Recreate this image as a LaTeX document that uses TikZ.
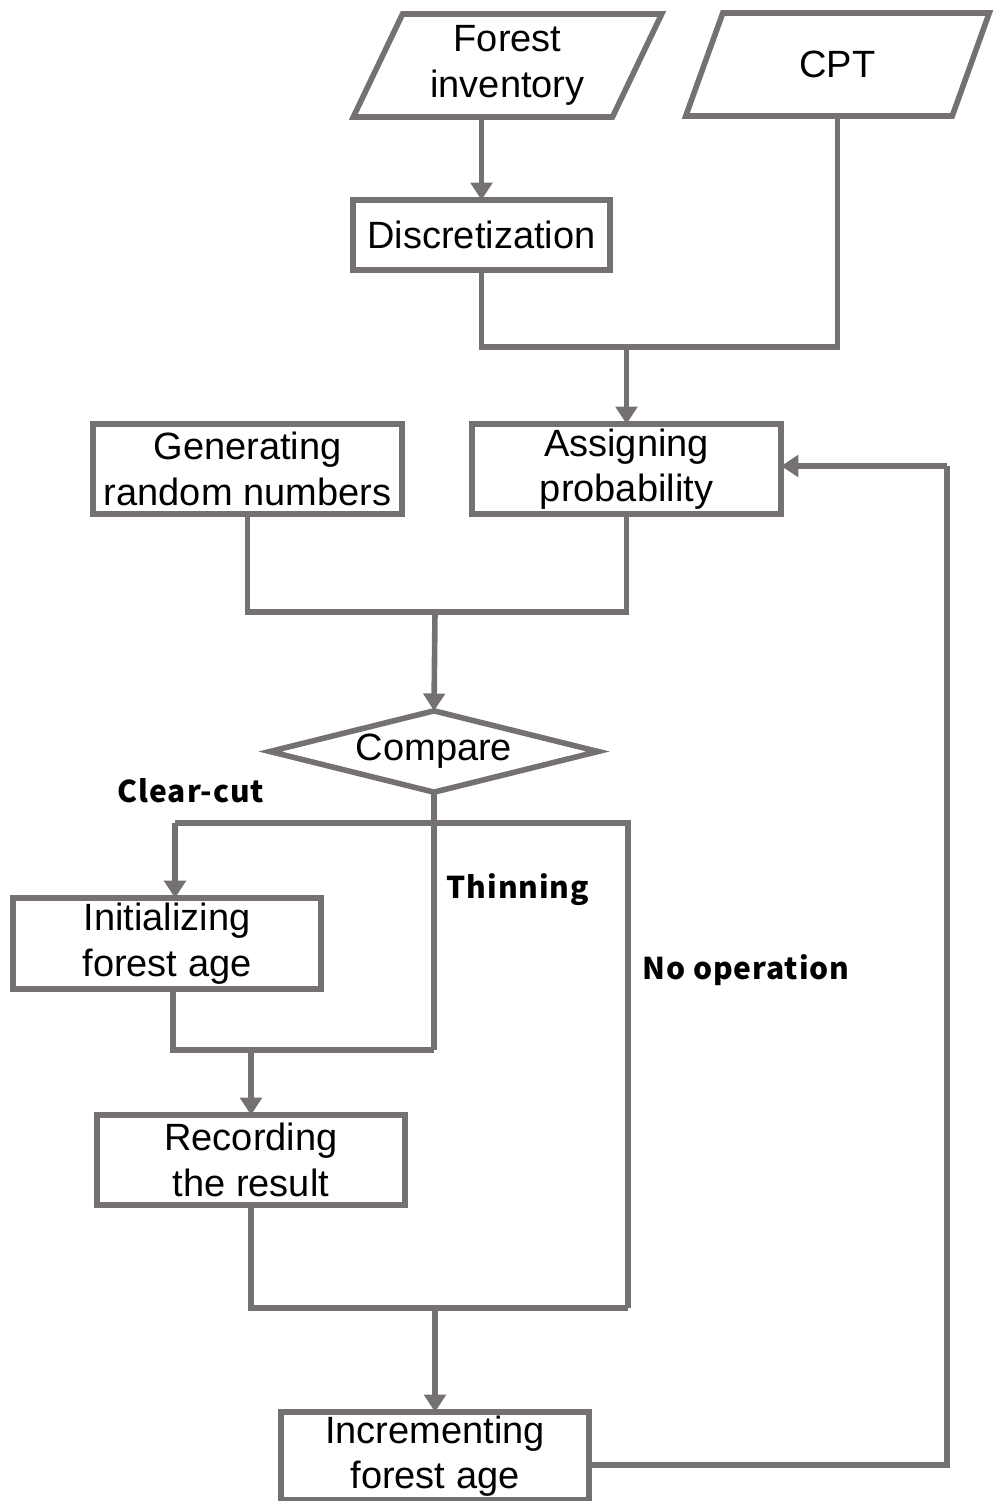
\documentclass[tikz,border=0pt]{standalone}
\usepackage{fontspec}
\setmainfont{Liberation Sans}
\newfontfamily\labfont[LetterSpace=3]{Noto Sans CJK JP}
\usetikzlibrary{shapes.geometric,arrows.meta}
\definecolor{lc}{HTML}{767171}
\begin{document}
\begin{tikzpicture}[x=0.75pt,y=-0.75pt,
  line/.style={draw=lc,line width=4.2pt},
  arr/.style={line,-{Triangle[width=16pt,length=13pt]}},
  box/.style={draw=lc,line width=4.2pt,fill=white,rectangle,inner sep=0pt,outer sep=0pt,
    align=center,font=\fontsize{28.5}{34}\selectfont},
  para/.style={box,trapezium,trapezium left angle=65.5,trapezium right angle=114.5,trapezium stretches=true},
  dia/.style={box,diamond,aspect=3.6},
  lab/.style={font=\labfont\bfseries\fontsize{22.5}{26}\selectfont,inner sep=0pt}]
\useasboundingbox (0,0) rectangle (995,1501);
% nodes
\node[para,minimum width=231.75pt,minimum height=77.25pt] (forest) at (507.5,65.5) {Forest\\inventory};
\node[para,minimum width=228.75pt,minimum height=77.25pt] (cpt) at (837.5,64.5) {CPT};
\node[box,minimum width=192.75pt,minimum height=52.5pt] (disc) at (481.5,235) {Discretization};
\node[box,minimum width=231.75pt,minimum height=67.5pt] (gen) at (247.5,469) {Generating\\random numbers};
\node[box,minimum width=231.75pt,minimum height=67.5pt] (assign) at (626.5,469) {Assigning\\probability};
\node[dia,minimum width=246pt,minimum height=61pt] (cmp) at (434,751.5) {Compare};
\node[box,minimum width=231pt,minimum height=68.25pt] (init) at (167,943.5) {Initializing\\forest age};
\node[box,minimum width=231pt,minimum height=67.5pt] (rec) at (251,1160) {Recording\\the result};
\node[box,minimum width=231pt,minimum height=66pt] (inc) at (435,1456) {Incrementing\\forest age};
% labels
\node[lab] (lclear) at (191,791) {Clear-cut};
\node[lab] (lthin) at (518,890) {Thinning};
\node[lab] (lnoop) at (746,970) {No operation};
% junction coordinates
\coordinate (j1) at (626.5,347);
\coordinate (j2) at (435,612);
\coordinate (j3) at (434,823);
\coordinate (j4) at (628,823);
\coordinate (cc) at (175,823);
\coordinate (j5) at (434,1050);
\coordinate (j6) at (251,1050);
\coordinate (j7) at (628,1308);
\coordinate (j8) at (435,1308);
\coordinate (fb1) at (947,1465);
\coordinate (fb2) at (947,466);
% connectors
\draw[arr] (forest.south -| disc.north) -- (disc.north);
\draw[line] (disc.south) |- (cpt.south |- j1) -- (cpt.south);
\draw[arr] (j1) -- (assign.north);
\draw[line] (gen.south) |- (assign.south |- j2) -- (assign.south);
\draw[arr] (j2) -- (cmp.north);
\draw[line] (cmp.south) -- (j3);
\draw[line] (cc) -- (j4) -- (j7);
\draw[arr] (cc) -- (cc |- init.north);
\draw[line] (j3) -- (j5);
\draw[line] (init.south -| 173,0) |- (j5);
\draw[arr] (j6) -- (rec.north);
\draw[line] (rec.south) |- (j7);
\draw[arr] (j8) -- (inc.north);
\draw[line] (inc.east |- fb1) -- (fb1) -- (fb2);
\draw[arr] (fb2) -- (assign.east |- fb2);
\end{tikzpicture}
\end{document}
